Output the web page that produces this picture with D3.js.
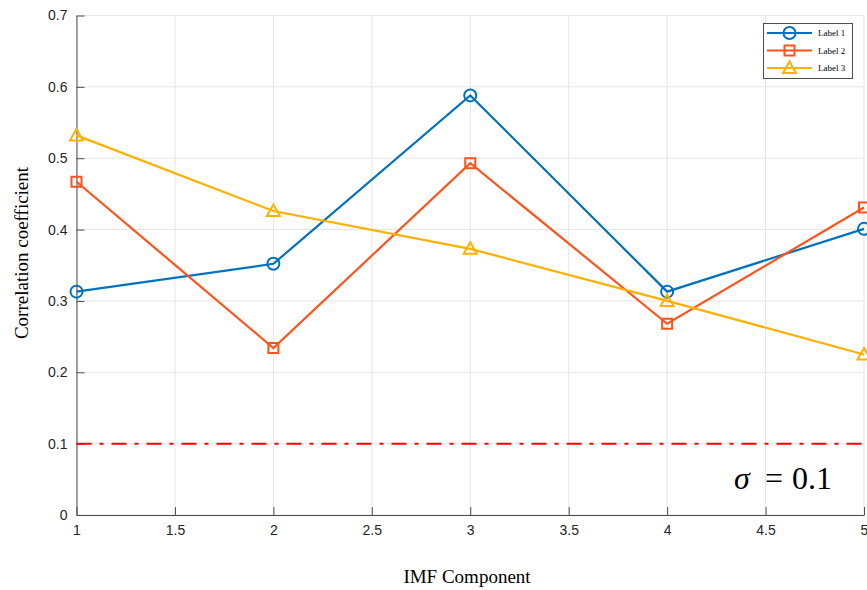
<!DOCTYPE html>
<html><head><meta charset="utf-8">
<script src="https://cdn.jsdelivr.net/npm/d3@7"></script>
<style>html,body{margin:0;padding:0;background:#fff;overflow:hidden}</style>
</head><body>
<script>
const xValues = [1, 2, 3, 4, 5];
const label1 = [0.313, 0.352, 0.588, 0.313, 0.401];
const label2 = [0.467, 0.234, 0.493, 0.268, 0.431];
const label3 = [0.532, 0.426, 0.373, 0.300, 0.225];
const seriesNames = ["Label 1", "Label 2", "Label 3"];
const xTicks = [1, 1.5, 2, 2.5, 3, 3.5, 4, 4.5, 5];
const yTicks = [0, 0.1, 0.2, 0.3, 0.4, 0.5, 0.6, 0.7];
const threshold = 0.1;

const W = 867, H = 590;
const m = {left: 76.5, right: 3, top: 15.5, bottom: 75};
const svg = d3.select("body").append("svg").attr("width", W).attr("height", H);
const x = d3.scaleLinear().domain([1, 5]).range([m.left, W - m.right]);
const y = d3.scaleLinear().domain([0, 0.7]).range([H - m.bottom, m.top]);

// grid
const g = svg.append("g");
g.selectAll(".gx").data(xTicks).join("line")
  .attr("x1", d => x(d)).attr("x2", d => x(d)).attr("y1", y(0)).attr("y2", y(0.7))
  .attr("stroke", "#e5e5e5").attr("stroke-width", 1);
g.selectAll(".gy").data(yTicks).join("line")
  .attr("x1", x(1)).attr("x2", x(5)).attr("y1", d => y(d)).attr("y2", d => y(d))
  .attr("stroke", "#e5e5e5").attr("stroke-width", 1);

// axes
const xAxis = d3.axisBottom(x).tickValues(xTicks).tickSizeInner(-8).tickSizeOuter(0).tickPadding(10)
  .tickFormat(d3.format("~g"));
const yAxis = d3.axisLeft(y).tickValues(yTicks).tickSizeInner(-8).tickSizeOuter(0).tickPadding(9)
  .tickFormat(d3.format("~g"));
const ax = svg.append("g").attr("transform", `translate(0,${y(0)})`).call(xAxis);
const ay = svg.append("g").attr("transform", `translate(${x(1)},0)`).call(yAxis);
[ax, ay].forEach(a => {
  a.select(".domain").attr("stroke", "#4d4d4d").attr("stroke-width", 1);
  a.selectAll(".tick line").attr("stroke", "#4d4d4d");
  a.selectAll(".tick text").attr("fill", "#262626").style("font-family", "Liberation Sans, Arial, sans-serif").style("font-size", "14px");
});
ax.selectAll(".tick text").attr("dy", "0.71em");

// threshold line
svg.append("line").attr("x1", x(1)).attr("x2", x(5)).attr("y1", y(threshold)).attr("y2", y(threshold))
  .attr("stroke", "#ff0000").attr("stroke-width", 2).attr("stroke-dasharray", "15,8,4,8");

// series
const colors = ["#0072BD", "#FF5319", "#FFB000"];
const data = [label1, label2, label3];
const line = d3.line().x((d, i) => x(xValues[i])).y(d => y(d));
function marker(sel, k, cx, cy, c) {
  if (k === 0) sel.append("circle").attr("cx", cx).attr("cy", cy).attr("r", 6)
    .attr("fill", "none").attr("stroke", c).attr("stroke-width", 2);
  else if (k === 1) sel.append("rect").attr("x", cx - 5).attr("y", cy - 5).attr("width", 10).attr("height", 10)
    .attr("fill", "none").attr("stroke", c).attr("stroke-width", 2);
  else sel.append("path").attr("d", `M${cx},${cy - 6.5}L${cx + 6.5},${cy + 5}L${cx - 6.5},${cy + 5}Z`)
    .attr("fill", "none").attr("stroke", c).attr("stroke-width", 2);
}
data.forEach((vals, k) => {
  svg.append("path").datum(vals).attr("d", line).attr("fill", "none")
    .attr("stroke", colors[k]).attr("stroke-width", 2.2);
  const mg = svg.append("g");
  vals.forEach((v, i) => marker(mg, k, x(xValues[i]), y(v), colors[k]));
});

// legend
const lg = svg.append("g");
lg.append("rect").attr("x", 763.5).attr("y", 23.5).attr("width", 89).attr("height", 55)
  .attr("fill", "#fff").attr("stroke", "#4d4d4d").attr("stroke-width", 1);
seriesNames.forEach((n, k) => {
  const yy = 33 + k * 17.5;
  lg.append("line").attr("x1", 767).attr("x2", 812).attr("y1", yy).attr("y2", yy)
    .attr("stroke", colors[k]).attr("stroke-width", 2.2);
  marker(lg, k, 789.5, yy, colors[k]);
  lg.append("text").attr("x", 818).attr("y", yy + 3).text(n)
    .style("font-family", "Liberation Serif, Times New Roman, serif").style("font-size", "9px").attr("fill", "#000");
});

// labels
svg.append("text").attr("x", 467).attr("y", 583).attr("text-anchor", "middle").text("IMF Component")
  .style("font-family", "Liberation Serif, Times New Roman, serif").style("font-size", "19px").attr("fill", "#000");
svg.append("text").attr("transform", "translate(28,253) rotate(-90)").attr("text-anchor", "middle")
  .text("Correlation coefficient")
  .style("font-family", "Liberation Serif, Times New Roman, serif").style("font-size", "19px").attr("fill", "#000");

// sigma annotation (LaTeX-like spacing)
const sig = svg.append("g").style("font-family", "Liberation Serif, Times New Roman, serif")
  .style("font-size", "32px").attr("fill", "#000");
sig.append("text").attr("x", 734).attr("y", 489).style("font-style", "italic").text("σ");
sig.append("text").attr("x", 765).attr("y", 489).text("=");
sig.append("text").attr("x", 792).attr("y", 489).text("0.1");
</script>
</body></html>
